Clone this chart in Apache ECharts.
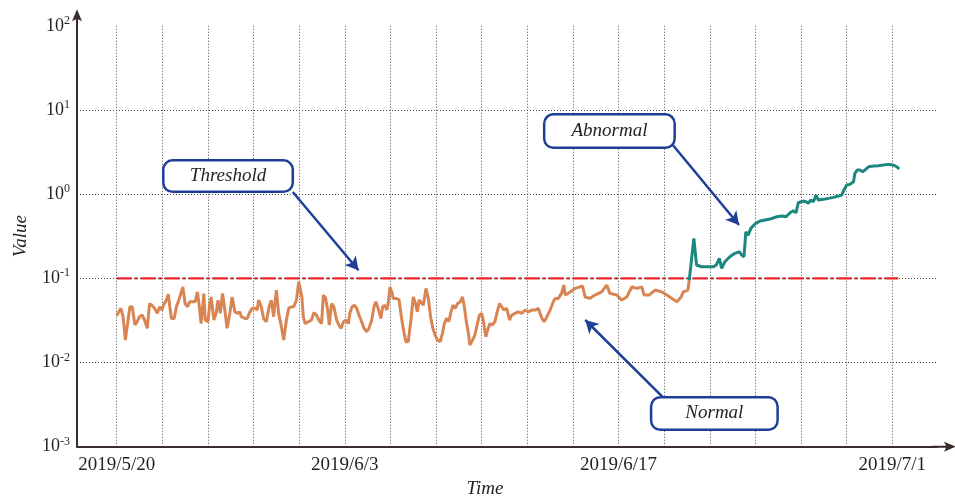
<!DOCTYPE html>
<html>
<head>
<meta charset="utf-8">
<script src="https://cdn.jsdelivr.net/npm/echarts@6/dist/echarts.min.js"></script>
<style>
  html, body { margin: 0; padding: 0; background: #ffffff; }
  #chart { width: 955px; height: 504px; }
</style>
</head>
<body>
<div id="chart"></div>
<script>
// Time axis: one grid column = 10 units; labelled dates sit on these units
const tickLabels = ['2019/5/20', '2019/6/3', '2019/6/17', '2019/7/1'];
const tickPositions = [0, 50, 110, 170];
const gridColumns = [0, 10, 20, 30, 40, 50, 60, 70, 80, 90, 100, 110, 120, 130, 140, 150, 160, 170];

// Detection threshold and the time span it is drawn over
const thresholdValue = 0.1;
const thresholdSpan = [0, 171.3];

// Monitored value before the change point: [time, value]
const normalData = [
  [0, 0.036], [0.9, 0.044], [1.4, 0.035], [1.9, 0.0185], [2.5, 0.032], [2.9, 0.046],
  [3.4, 0.046], [4.0, 0.028], [4.5, 0.0305], [5.0, 0.035], [5.6, 0.0366], [6.1, 0.032],
  [6.7, 0.0255], [7.2, 0.050], [7.7, 0.048], [8.3, 0.044], [8.9, 0.0384], [9.4, 0.046],
  [9.9, 0.042], [10.4, 0.050], [10.9, 0.055], [11.3, 0.065], [11.6, 0.048], [12.0, 0.0334],
  [12.6, 0.0334], [13.1, 0.046], [13.6, 0.055], [14.0, 0.055], [14.5, 0.079], [15.0, 0.050],
  [15.5, 0.046], [16.0, 0.0527], [16.7, 0.0527], [17.2, 0.0527], [17.7, 0.069], [18.2, 0.042],
  [18.5, 0.029], [19.1, 0.066], [19.4, 0.032], [20.0, 0.0305], [20.4, 0.050], [20.7, 0.060],
  [21.3, 0.032], [21.8, 0.0384], [22.2, 0.055], [22.7, 0.0384], [23.2, 0.066], [23.7, 0.042],
  [24.2, 0.0255], [24.8, 0.0384], [25.3, 0.060], [25.9, 0.040], [26.4, 0.0384], [27.0, 0.040],
  [27.3, 0.035], [28.1, 0.0334], [28.6, 0.0334], [29.2, 0.040], [29.7, 0.044], [30.3, 0.044],
  [30.8, 0.042], [31.1, 0.055], [31.7, 0.046], [32.2, 0.0334], [32.8, 0.0305], [33.4, 0.046],
  [33.9, 0.055], [34.4, 0.035], [35.0, 0.0726], [35.5, 0.0384], [36.1, 0.0266], [36.6, 0.0185],
  [37.2, 0.032], [37.7, 0.044], [38.3, 0.046], [38.8, 0.046], [39.4, 0.055], [39.9, 0.091],
  [40.6, 0.060], [40.9, 0.035], [41.3, 0.029], [42.0, 0.0305], [42.7, 0.032], [43.2, 0.039],
  [43.8, 0.0366], [44.3, 0.032], [44.9, 0.029], [45.3, 0.0633], [45.8, 0.0578], [46.3, 0.040],
  [46.6, 0.0279], [47.1, 0.050], [47.6, 0.046], [48.2, 0.032], [48.7, 0.0279], [49.2, 0.0255],
  [49.7, 0.0305], [50.3, 0.032], [50.8, 0.029], [51.1, 0.0384], [51.6, 0.046], [52.1, 0.048],
  [52.6, 0.044], [53.1, 0.0366], [53.7, 0.0305], [54.2, 0.0255], [54.8, 0.0232], [55.3, 0.0255],
  [55.9, 0.032], [56.4, 0.046], [56.8, 0.0527], [57.3, 0.044], [57.9, 0.0334], [58.3, 0.046],
  [58.8, 0.048], [59.2, 0.042], [59.5, 0.050], [59.9, 0.079], [60.3, 0.069], [60.6, 0.0578],
  [61.4, 0.0578], [61.9, 0.0552], [62.5, 0.032], [63.0, 0.0222], [63.4, 0.0177], [63.9, 0.0177],
  [64.5, 0.032], [65.0, 0.060], [65.5, 0.050], [65.9, 0.040], [66.3, 0.0552], [66.7, 0.0578],
  [67.2, 0.048], [67.8, 0.076], [68.3, 0.0578], [68.8, 0.035], [69.3, 0.0255], [69.8, 0.0212],
  [70.3, 0.0185], [70.9, 0.0177], [71.4, 0.0222], [71.8, 0.029], [72.3, 0.0334], [72.8, 0.0305],
  [73.2, 0.0384], [73.7, 0.048], [74.2, 0.044], [74.7, 0.050], [75.3, 0.0527], [75.8, 0.060],
  [76.2, 0.046], [76.7, 0.029], [77.1, 0.0222], [77.4, 0.0161], [78.0, 0.0185], [78.5, 0.0212],
  [79.0, 0.0279], [79.5, 0.0366], [80.0, 0.0384], [80.4, 0.0305], [80.9, 0.0202], [81.3, 0.0243],
  [81.8, 0.029], [82.3, 0.0279], [82.9, 0.0305], [83.4, 0.040], [83.9, 0.050], [84.4, 0.046],
  [84.9, 0.042], [85.5, 0.044], [86.1, 0.032], [86.6, 0.0366], [87.3, 0.0384], [88.0, 0.040],
  [88.8, 0.0384], [89.5, 0.042], [90.2, 0.040], [91.0, 0.042], [91.7, 0.042], [92.4, 0.044],
  [93.2, 0.0334], [93.7, 0.0305], [94.3, 0.035], [95.0, 0.042], [95.7, 0.0527], [96.1, 0.0578],
  [96.8, 0.0578], [97.5, 0.0663], [98.0, 0.0832], [98.3, 0.0633], [99.4, 0.069], [100.5, 0.076],
  [102.1, 0.081], [102.7, 0.060], [103.7, 0.0578], [104.8, 0.0633], [106.3, 0.069], [107.4, 0.0832],
  [108.1, 0.0663], [109.6, 0.0633], [110.7, 0.0552], [111.8, 0.060], [112.9, 0.079], [114.0, 0.076],
  [115.1, 0.079], [115.6, 0.0633], [116.7, 0.0633], [118.0, 0.0726], [119.5, 0.069], [120.6, 0.0633],
  [121.7, 0.0578], [122.8, 0.0527], [123.7, 0.060], [124.2, 0.069], [125.2, 0.0726], [125.5, 0.0954]
];

// Monitored value after the change point: [time, value]
const abnormalData = [
  [125.5, 0.0954], [126.5, 0.2985], [127.1, 0.1439], [128.2, 0.1374], [129.7, 0.1374], [130.8, 0.1374],
  [131.4, 0.1439], [132.1, 0.1728], [132.6, 0.1314], [133.3, 0.1574], [134.4, 0.1805], [135.5, 0.1981],
  [136.5, 0.2070], [137.0, 0.1891], [137.5, 0.1805], [137.9, 0.3576], [138.4, 0.3267], [139.0, 0.3925],
  [139.9, 0.4415], [141.0, 0.4792], [142.1, 0.4925], [143.2, 0.5061], [144.7, 0.5389], [145.8, 0.5494],
  [146.7, 0.5389], [147.6, 0.6012], [148.3, 0.6352], [148.9, 0.6012], [149.4, 0.7905], [150.4, 0.8282],
  [151.1, 0.8124], [151.6, 0.7775], [152.1, 0.8510], [152.7, 0.8124], [153.3, 0.9757], [153.8, 0.8510],
  [154.9, 0.8675], [156.0, 0.8915], [157.1, 0.9162], [158.2, 0.9493], [158.9, 0.9757], [159.4, 1.119],
  [160.0, 1.283], [160.7, 1.307], [161.5, 1.404], [161.8, 1.766], [162.3, 1.933], [162.9, 1.933],
  [163.5, 1.845], [164.0, 1.933], [164.8, 2.116], [165.9, 2.157], [166.9, 2.175], [168.0, 2.216],
  [169.1, 2.259], [170.2, 2.216], [171.0, 2.116], [171.5, 1.987]
];

const SERIF = '"Liberation Serif", "DejaVu Serif", serif';
const TEXT = '#231f20';
const AXIS = '#3a2e2b';
const GRIDLINE = '#4a4a4a';
const BLUE = '#1f3e97';

// Arrowhead with a short stem so the axis line visibly runs into the tip
const axisArrow = 'path://M5 0 L10 12 L5 9.5 L0 12 Z M4 9 L6 9 L6 24 L4 24 Z';

const chart = echarts.init(document.getElementById('chart'), null, { renderer: 'canvas' });

// Rounded callout box drawn as a styled label centred on a data coordinate
function annotationBox(text, coord, w, h) {
  return {
    coord: coord,
    symbol: 'circle',
    symbolSize: 1,
    itemStyle: { color: 'rgba(0,0,0,0)' },
    label: {
      show: true, position: 'inside', formatter: text,
      width: w, height: h, lineHeight: h,
      align: 'center', verticalAlign: 'middle',
      backgroundColor: '#ffffff', borderColor: BLUE, borderWidth: 2.5, borderRadius: 8,
      fontFamily: SERIF, fontStyle: 'italic', fontSize: 19, color: TEXT
    }
  };
}

function annotationArrow(from, to) {
  return [{ coord: from }, { coord: to }];
}

chart.setOption({
  animation: false,
  backgroundColor: '#ffffff',
  grid: { left: 77, right: 18, top: 25.8, bottom: 57.3, containLabel: false, outerBoundsMode: 'none' },
  xAxis: {
    type: 'value',
    min: -8.7,
    max: 179.8,
    name: 'Time',
    nameLocation: 'middle',
    nameGap: 33,
    nameTextStyle: { fontFamily: SERIF, fontStyle: 'italic', fontSize: 19, color: TEXT, padding: [0, 44, 0, 0] },
    axisLine: {
      show: true,
      onZero: false,
      lineStyle: { color: AXIS, width: 2 },
      symbol: ['none', axisArrow],
      symbolSize: [10, 24],
      symbolOffset: [0, 7]
    },
    axisTick: { show: false },
    splitLine: { show: false },
    axisLabel: {
      customValues: tickPositions,
      formatter: function (v) {
        const i = tickPositions.indexOf(Math.round(v));
        return i >= 0 ? tickLabels[i] : '';
      },
      margin: 9,
      fontFamily: SERIF, fontSize: 19, color: TEXT
    }
  },
  yAxis: {
    type: 'log',
    logBase: 10,
    min: 0.001,
    max: 100,
    name: 'Value',
    nameLocation: 'middle',
    nameGap: 47,
    nameTextStyle: { fontFamily: SERIF, fontStyle: 'italic', fontSize: 19, color: TEXT },
    axisLine: {
      show: true,
      onZero: false,
      lineStyle: { color: AXIS, width: 2 },
      symbol: ['none', axisArrow],
      symbolSize: [10, 24],
      symbolOffset: [0, 4.5]
    },
    axisTick: { show: false },
    splitLine: {
      show: true,
      showMinLine: false,
      showMaxLine: false,
      lineStyle: { color: GRIDLINE, width: 1, type: [1, 2] }
    },
    axisLabel: {
      margin: 7,
      formatter: function (v) {
        const e = Math.round(Math.log10(v));
        return '{b|10}{s|' + e + '}';
      },
      rich: {
        b: { fontFamily: SERIF, fontSize: 18, color: TEXT },
        s: { fontFamily: SERIF, fontSize: 12, color: TEXT, padding: [0, 0, 10, 0] }
      }
    }
  },
  series: [
    {
      name: 'Threshold',
      type: 'line',
      z: 2,
      data: thresholdSpan.map(function (t) { return [t, thresholdValue]; }),
      showSymbol: false,
      lineStyle: { color: '#e8252a', width: 2.2, type: [15, 3, 3, 3] },
      markLine: {
        z: 1,
        silent: true,
        symbol: 'none',
        label: { show: false },
        lineStyle: { color: GRIDLINE, width: 1, type: [1, 2] },
        data: gridColumns.map(function (c) { return { xAxis: c }; })
      }
    },
    {
      name: 'Normal',
      type: 'line',
      z: 3,
      data: normalData,
      showSymbol: false,
      lineStyle: { color: '#d98553', width: 3 },
      markLine: {
        silent: true,
        symbol: ['none', 'arrow'],
        symbolSize: [11, 13],
        label: { show: false },
        lineStyle: { color: BLUE, width: 2.5, type: 'solid' },
        data: [
          annotationArrow([38.6, 1.06], [53.0, 0.125]),
          annotationArrow([121.9, 3.83], [136.4, 0.43]),
          annotationArrow([119.7, 0.00389], [102.7, 0.0320])
        ]
      },
      markPoint: {
        silent: true,
        data: [
          annotationBox('Threshold', [24.4, 1.64], 127, 29),
          annotationBox('Abnormal', [108.0, 5.62], 128, 31),
          annotationBox('Normal', [131.0, 0.00248], 124, 30)
        ]
      }
    },
    {
      name: 'Abnormal',
      type: 'line',
      z: 3,
      data: abnormalData,
      showSymbol: false,
      lineStyle: { color: '#1b877f', width: 3 }
    }
  ]
});
</script>
</body>
</html>
